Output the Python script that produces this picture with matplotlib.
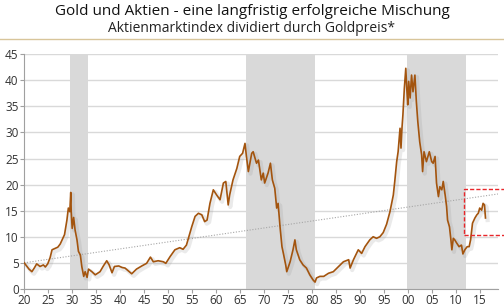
import matplotlib
matplotlib.use("Agg")
import matplotlib.pyplot as plt
import matplotlib.patheffects as pe
from matplotlib.patches import Rectangle
from matplotlib.lines import Line2D

plt.rcParams['font.family'] = ['Open Sans', 'DejaVu Sans']

years = [1920.0, 1920.5, 1921.0, 1921.6, 1922.1, 1922.6, 1923.3, 1924.0, 1924.4, 1924.9,
         1925.4, 1925.8, 1926.5, 1927.0, 1927.5, 1927.9, 1928.4, 1928.9, 1929.2, 1929.5,
         1929.7, 1929.8, 1930.0, 1930.3, 1930.6, 1931.0, 1931.3, 1931.7, 1932.0, 1932.4,
         1932.7, 1933.1, 1933.4, 1934.1, 1934.8, 1935.8, 1936.5, 1937.2, 1937.7, 1938.3,
         1938.8, 1939.7, 1940.4, 1941.0, 1942.4, 1943.4, 1944.5, 1945.5, 1946.3, 1946.9,
         1947.9, 1949.0, 1949.5, 1950.4, 1951.4, 1952.4, 1953.1, 1953.8, 1954.2, 1954.9,
         1955.6, 1956.3, 1957.0, 1957.6, 1958.1, 1958.7, 1959.4, 1960.1, 1960.8, 1961.5,
         1962.0, 1962.5, 1962.8, 1963.5, 1964.3, 1964.9, 1965.5, 1966.0, 1966.3, 1966.7,
         1967.4, 1967.7, 1968.4, 1968.8, 1969.4, 1969.8, 1970.1, 1970.8, 1971.3, 1971.7,
         1972.2, 1972.6, 1972.9, 1973.3, 1973.7, 1974.0, 1974.5, 1974.7, 1975.4, 1976.0,
         1976.4, 1976.7, 1977.4, 1978.1, 1978.8, 1979.5, 1980.2, 1980.6, 1980.9, 1981.6,
         1982.4, 1983.4, 1984.4, 1985.5, 1986.5, 1987.6, 1987.9, 1988.6, 1989.6, 1990.3,
         1991.0, 1992.0, 1992.7, 1993.4, 1994.1, 1994.8, 1995.5, 1996.2, 1996.9, 1997.2,
         1997.6, 1997.9, 1998.3, 1998.5, 1998.7, 1998.9, 1999.2, 1999.5, 1999.7, 1999.9,
         2000.1, 2000.4, 2000.7, 2001.0, 2001.4, 2001.7, 2002.0, 2002.4, 2002.8, 2003.0,
         2003.3, 2003.8, 2004.4, 2004.9, 2005.2, 2005.6, 2005.9, 2006.3, 2006.6, 2007.0,
         2007.3, 2007.7, 2008.0, 2008.2, 2008.6, 2008.9, 2009.1, 2009.4, 2009.7, 2010.1,
         2010.6, 2011.1, 2011.4, 2011.8, 2012.3, 2012.7, 2013.0, 2013.4, 2013.9, 2014.3,
         2014.6, 2014.9, 2015.3, 2015.6, 2015.9, 2016.1]
ratio = [5.0, 4.4, 3.8, 3.3, 4.0, 4.8, 4.3, 4.6, 4.2, 4.8,
         6.0, 7.5, 7.8, 8.0, 8.6, 9.4, 10.4, 13.2, 15.5, 14.8,
         18.5, 14.8, 11.6, 13.7, 11.3, 9.4, 7.2, 6.5, 4.3, 2.4,
         3.3, 2.2, 3.8, 3.3, 2.7, 3.3, 4.4, 5.4, 4.6, 3.1,
         4.3, 4.4, 4.1, 4.0, 2.9, 3.8, 4.4, 4.9, 6.1, 5.2,
         5.4, 5.2, 4.9, 6.2, 7.5, 7.9, 7.6, 8.4, 9.7, 11.9,
         13.9, 14.5, 14.2, 12.9, 13.2, 16.4, 19.0, 18.0, 17.1, 20.3,
         20.6, 16.1, 18.0, 20.9, 23.1, 25.4, 26.0, 27.9, 25.4, 22.5,
         26.0, 26.3, 24.1, 24.7, 20.9, 22.2, 20.3, 22.2, 24.1, 20.9,
         19.3, 15.5, 16.4, 11.9, 8.1, 6.8, 4.5, 3.3, 5.2, 7.5,
         9.4, 7.5, 5.6, 4.6, 4.0, 2.7, 1.7, 1.3, 2.1, 2.4,
         2.4, 3.0, 3.3, 4.3, 5.2, 5.6, 4.0, 5.6, 7.5, 6.8,
         8.1, 9.4, 10.0, 9.7, 10.0, 10.8, 12.4, 14.8, 18.0, 20.6,
         24.4, 26.3, 30.8, 27.0, 30.8, 33.4, 38.5, 42.3, 38.5, 35.3,
         39.8, 36.6, 41.0, 37.8, 41.0, 35.9, 32.1, 28.2, 25.7, 22.5,
         26.3, 24.4, 26.3, 24.4, 24.1, 25.4, 20.3, 17.7, 19.6, 19.0,
         20.6, 18.0, 15.8, 13.2, 11.9, 9.4, 7.5, 9.7, 9.4, 8.8,
         8.1, 8.4, 6.7, 7.5, 8.1, 8.1, 9.4, 12.6, 13.6, 14.2,
         14.5, 15.5, 15.1, 16.4, 16.1, 13.6]

# shaded periods (start, end)
shaded = [(1929.6, 1933.2), (1966.2, 1980.6), (1999.8, 2012.0)]
trend_x = [1920.0, 2018.7]
trend_y = [5.0, 18.2]
# highlight box: x0, x1, y0, y1
box = (2011.7, 2020.3, 10.3, 19.1)

xticks = list(range(1920, 2020, 5))
xlabels = ['%02d' % (y % 100) for y in xticks]

fig = plt.figure(figsize=(5.04, 3.08), dpi=100)
ax = fig.add_axes([0.048, 0.062, 0.94, 0.762])

for s, e in shaded:
    ax.axvspan(s, e, color='#d9d9d9', lw=0, zorder=0)

ax.set_axisbelow(True)
ax.yaxis.grid(True, color='#d9d9d9', lw=1)

ax.plot(trend_x, trend_y, color='#a6a6a6', lw=0.8, ls=(0, (1, 1.5)), zorder=2)

ax.plot(years, ratio, color='#a3540e', lw=1.2, zorder=3,
        path_effects=[pe.SimpleLineShadow(offset=(1.5, -1.5), shadow_color='#999999', alpha=0.2, linewidth=3),
                      pe.Normal()])

rect = Rectangle((box[0], box[2]), box[1] - box[0], box[3] - box[2], fill=False,
                 ec='#e8262a', lw=1.0, ls=(0, (3, 1.5)), clip_on=False, zorder=4)
ax.add_patch(rect)

ax.set_xlim(1920, 2018.7)
ax.set_ylim(0, 45)
ax.set_yticks(range(0, 46, 5))
ax.set_xticks(xticks)
ax.set_xticklabels(xlabels)
for side in ['top', 'right']:
    ax.spines[side].set_visible(False)
for side in ['left', 'bottom']:
    ax.spines[side].set_color('#a0a0a0')
ax.tick_params(axis='both', colors='#a0a0a0', labelcolor='#333333', labelsize=8.5, length=3, width=0.8, pad=1)

fig.text(0.5, 0.963, 'Gold und Aktien - eine langfristig erfolgreiche Mischung',
         ha='center', va='center', fontsize=11, color='#111111')
fig.text(0.5, 0.908, 'Aktienmarktindex dividiert durch Goldpreis*',
         ha='center', va='center', fontsize=10, color='#222222')
fig.add_artist(Line2D([0, 1], [0.872, 0.872], transform=fig.transFigure, color='#d8c59a', lw=1))

fig.savefig('out.png', dpi=100)
